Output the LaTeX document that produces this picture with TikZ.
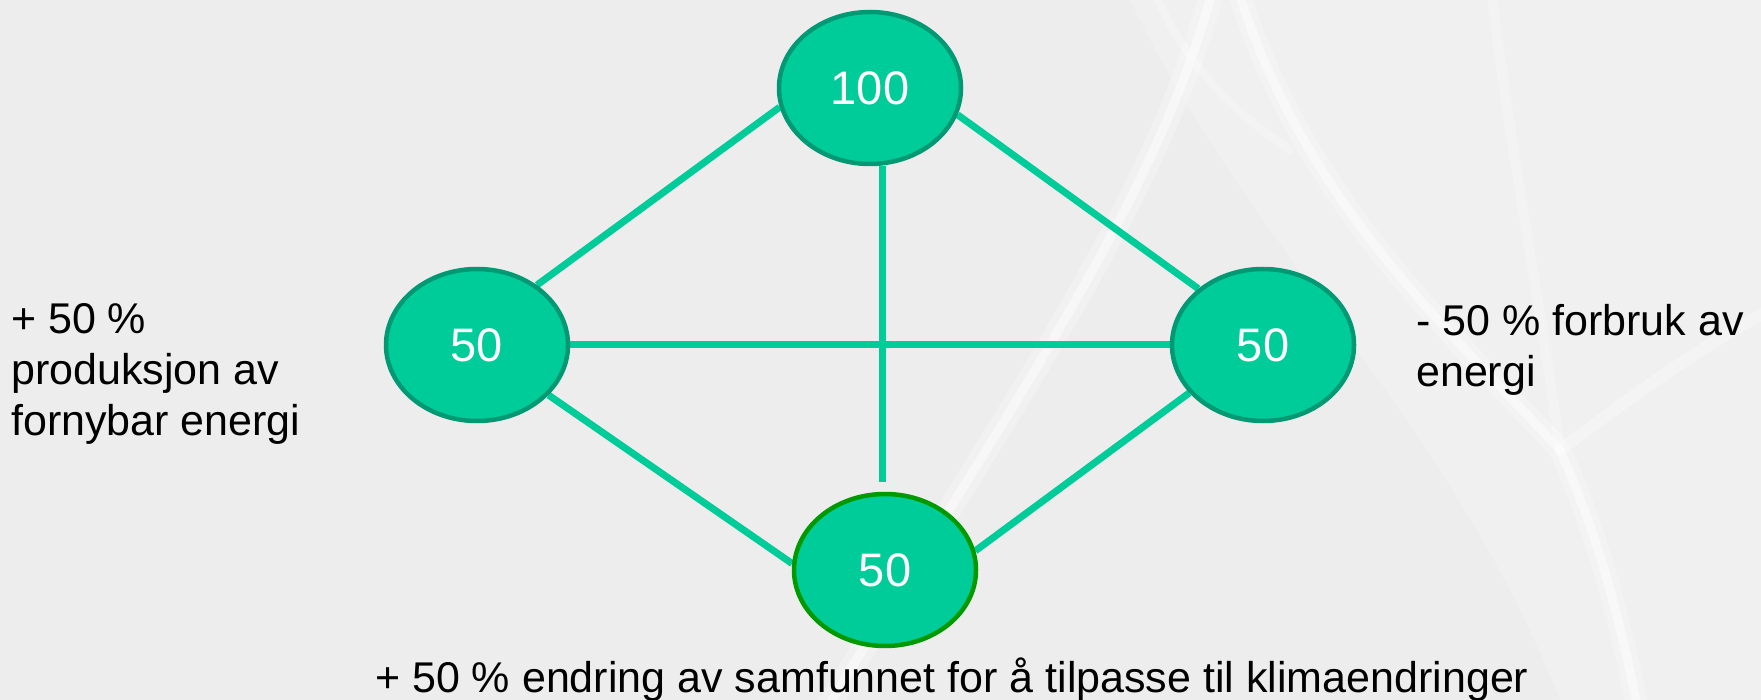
\documentclass[tikz,border=0pt]{standalone}
\usepackage{fontspec}
\setmainfont{Liberation Sans}
\usetikzlibrary{shapes.geometric,calc}
\definecolor{paper}{HTML}{EDEDED}
\definecolor{bubblefill}{HTML}{00CC99}
\definecolor{bubbleedge}{HTML}{009973}
\definecolor{greenedge}{HTML}{009900}
\definecolor{linkcolor}{HTML}{00CC99}
\pgfdeclarelayer{paperlayer}
\pgfdeclarelayer{linklayer}
\pgfsetlayers{paperlayer,linklayer,main}
\begin{document}
\begin{tikzpicture}[x=1pt,y=-1pt,
  bubble/.style={ellipse, fill=bubblefill, draw=bubbleedge, line width=4.5pt,
    minimum width=182pt, minimum height=152pt, inner sep=0pt,
    text=white, font=\fontsize{47}{56}\selectfont},
  connector/.style={draw=linkcolor, line width=7pt},
  caption/.style={inner sep=0pt, text=black, font=\fontsize{43}{51}\selectfont},
  streak/.style={white, line cap=round, line join=round}]
\useasboundingbox (0,0) rectangle (1761,700);

% paper background with faint light streaks
\begin{pgfonlayer}{paperlayer}
  \fill[paper] (0,0) rectangle (1761,700);
  \begin{scope}
    \clip (0,0) rectangle (1761,700);
    \fill[white, opacity=0.18] (1130,0) -- (1761,0) -- (1761,700) -- (1560,700)
       .. controls (1450,420) and (1250,250) .. (1130,0) -- cycle;
    \draw[streak, line width=24pt, opacity=0.25]
       (1215,-20) .. controls (1160,200) and (1000,420) .. (820,720);
    \draw[streak, line width=9pt, opacity=0.45]
       (1215,-20) .. controls (1160,200) and (1000,420) .. (820,720);
    \draw[streak, line width=22pt, opacity=0.25]
       (1235,-20) .. controls (1300,200) and (1450,330) .. (1560,450)
       .. controls (1600,540) and (1620,620) .. (1640,720);
    \draw[streak, line width=9pt, opacity=0.45]
       (1235,-20) .. controls (1300,200) and (1450,330) .. (1560,450)
       .. controls (1600,540) and (1620,620) .. (1640,720);
    \draw[streak, line width=12pt, opacity=0.3]
       (1560,450) .. controls (1640,390) and (1710,340) .. (1780,305);
    \draw[streak, line width=10pt, opacity=0.25]
       (1490,-20) .. controls (1510,150) and (1540,300) .. (1560,450);
    \draw[streak, line width=8pt, opacity=0.25]
       (1150,-20) .. controls (1180,60) and (1230,110) .. (1290,150);
  \end{scope}
\end{pgfonlayer}

% ellipses
\node[bubble] (T) at (870,88) {100};
\node[bubble] (L) at (477,345) {50};
\node[bubble] (R) at (1263,345) {50};
\node[bubble, draw=greenedge] (B) at (885,570) {50};

% connectors
\begin{pgfonlayer}{linklayer}
  \draw[connector] (L.45) -- (T.192);
  \draw[connector] (T.-17) -- (R.139);
  \draw[connector] (L.east) -- (R.west);
  \draw[connector] ([xshift=12pt]T.south) -- ([xshift=-3pt,yshift=10pt]B.north);
  \draw[connector] (L.-35) -- (B.176);
  \draw[connector] (R.213) -- (B.12);
\end{pgfonlayer}

% captions (base anchor sits on the last line)
\node[caption, anchor=base west, align=left] (capL) at (11,435)
  {+ 50 \%\\produksjon av\\fornybar energi};
\node[caption, anchor=base west, align=left] (capR) at (1416,386)
  {- 50 \% forbruk av\\energi};
\node[caption, anchor=base west] (capB) at (375,692)
  {+ 50 \% endring av samfunnet for å tilpasse til klimaendringer};
\end{tikzpicture}
\end{document}
